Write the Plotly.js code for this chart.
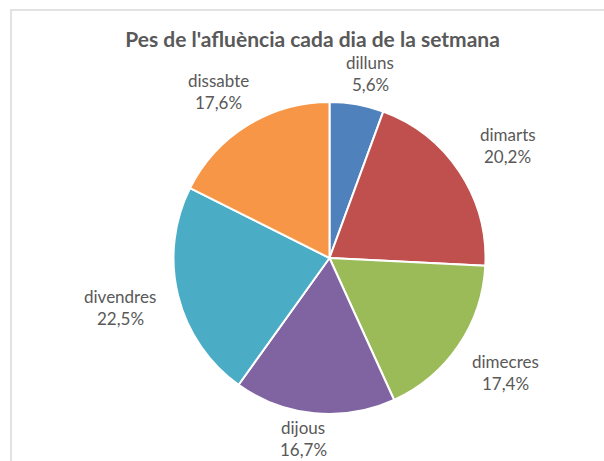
<!DOCTYPE html>
<html><head><meta charset="utf-8">
<script src="https://cdn.plot.ly/plotly-3.0.1.min.js"></script>
<style>html,body{margin:0;padding:0;background:#fff}#chart{width:604px;height:461px}</style>
</head><body><div id="chart"></div>
<script>
var days = ["dilluns","dimarts","dimecres","dijous","divendres","dissabte"];
var shares = [5.6, 20.2, 17.4, 16.7, 22.5, 17.6];
var colors = ["#4F81BD","#C0504D","#9BBB59","#8064A2","#4BACC6","#F79646"];
var chartTitle = "Pes de l'afluència cada dia de la setmana";

var W = 604, H = 461;
var cx = 329.5, cy = 258, R = 156;
var fontFam = "Lato, 'Open Sans', sans-serif";

var total = shares.reduce(function(a,b){return a+b;},0);
var annotations = [];
var cum = 0;
for (var i=0;i<shares.length;i++){
  var mid = (cum + shares[i]/2)/total*2*Math.PI;
  cum += shares[i];
  var s = Math.sin(mid), c = Math.cos(mid);
  var d = 183 + 25*Math.abs(s);
  var px = cx + d*s + 8*(s>=0?1:-1), py = cy - d*c;
  py = Math.min(py, H - 23);
  var ax = px/W, ay = 1 - py/H;
  annotations.push({xref:'paper',yref:'paper',x:ax,y:ay,text:days[i],showarrow:false,
    xanchor:'center',yanchor:'middle',yshift:11,font:{family:fontFam,size:17,color:'#595959'}});
  annotations.push({xref:'paper',yref:'paper',x:ax,y:ay,text:shares[i].toFixed(1).replace('.',',')+'%',showarrow:false,
    xanchor:'center',yanchor:'middle',yshift:-11,font:{family:fontFam,size:17,color:'#595959'}});
}

var trace = {
  type:'pie', labels:days, values:shares, sort:false, direction:'clockwise', rotation:0,
  marker:{colors:colors, line:{color:'#ffffff', width:2}},
  textinfo:'none', hoverinfo:'label+percent',
  domain:{x:[(cx-R)/W,(cx+R)/W], y:[1-(cy+R)/H, 1-(cy-R)/H]}
};

var layout = {
  width:W, height:H, margin:{l:0,r:0,t:0,b:0}, showlegend:false,
  paper_bgcolor:'#ffffff',
  title:{text:'<b>'+chartTitle+'</b>', x:312.5/W, xanchor:'center', xref:'paper',
    y:1-40/H, yanchor:'middle', yref:'paper',
    font:{family:fontFam,size:21,color:'#595959'}},
  annotations:annotations,
  shapes:[{type:'rect',xref:'paper',yref:'paper',x0:11/W,x1:1.2,y0:-0.2,y1:1-10/H,
    line:{color:'#D9D9D9',width:1.5}, fillcolor:'rgba(0,0,0,0)'}]
};
Plotly.newPlot('chart',[trace],layout,{displayModeBar:false,staticPlot:true});
</script></body></html>
